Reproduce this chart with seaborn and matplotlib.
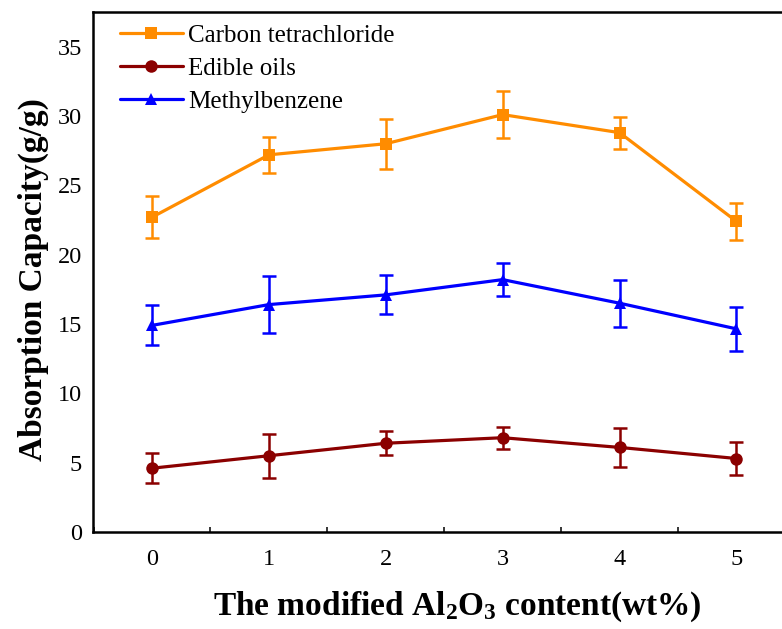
import numpy as np
import pandas as pd
import matplotlib
matplotlib.use("Agg")
import matplotlib.pyplot as plt
import seaborn as sns
from matplotlib.ticker import MultipleLocator
from matplotlib.lines import Line2D

# Al2O3 content (wt%)
content = [0, 1, 2, 3, 4, 5]

# Absorption capacity (g/g) and error bars for each liquid
carbon_tet = [22.7, 27.2, 28.0, 30.1, 28.8, 22.4]
carbon_tet_err = [1.5, 1.3, 1.8, 1.7, 1.15, 1.35]
edible_oils = [4.6, 5.5, 6.4, 6.8, 6.1, 5.3]
edible_oils_err = [1.1, 1.6, 0.85, 0.8, 1.4, 1.2]
methylbenzene = [14.9, 16.4, 17.1, 18.2, 16.5, 14.65]
methylbenzene_err = [1.45, 2.05, 1.4, 1.2, 1.7, 1.6]

series_names = ["Carbon tetrachloride", "Edible oils", "Methylbenzene"]
series_vals = [carbon_tet, edible_oils, methylbenzene]
series_errs = [carbon_tet_err, edible_oils_err, methylbenzene_err]
colors = ["#FF8C00", "#8B0000", "#0000FF"]
markers = ["s", "o", "^"]

sns.set_theme(style="white")
plt.rcParams["font.family"] = ["Liberation Serif", "DejaVu Serif"]
plt.rcParams["mathtext.default"] = "regular"
plt.rcParams["text.color"] = "black"
plt.rcParams["axes.labelcolor"] = "black"

df = pd.DataFrame({
    "content": content * 3,
    "capacity": sum(series_vals, []),
    "series": sum([[n] * len(content) for n in series_names], []),
})

fig = plt.figure(figsize=(7.82, 6.29), dpi=100)
ax = fig.add_axes([93 / 782, 97 / 629, 1 - 93 / 782, 520 / 629])

palette = dict(zip(series_names, colors))
sns.lineplot(data=df, x="content", y="capacity", hue="series", style="series",
             hue_order=series_names, style_order=series_names,
             palette=palette, markers=dict(zip(series_names, markers)),
             dashes=False, linewidth=2.3, markersize=9,
             markeredgewidth=0, errorbar=None, ax=ax, legend=False, zorder=3)

for vals, errs, c in zip(series_vals, series_errs, colors):
    ax.errorbar(content, vals, yerr=errs, fmt="none", ecolor=c,
                elinewidth=1.8, capsize=5, capthick=1.8, zorder=2)

ax.set_xlim(-0.505, 5.39)
ax.set_ylim(0, 37.5)
ax.xaxis.set_major_locator(MultipleLocator(1))
ax.xaxis.set_minor_locator(MultipleLocator(0.5))
ax.yaxis.set_major_locator(MultipleLocator(5))

ax.tick_params(axis="both", which="major", direction="in", length=6, width=1.5,
               labelsize=17.5, colors="black")
ax.tick_params(axis="x", which="major", pad=12)
ax.tick_params(axis="y", which="major", pad=8)
ax.tick_params(axis="x", which="minor", direction="in", length=3.5, width=1.3,
               bottom=True)
ax.tick_params(axis="y", which="minor", left=False)

for side in ["left", "bottom", "top"]:
    ax.spines[side].set_visible(True)
    ax.spines[side].set_linewidth(1.8)
    ax.spines[side].set_color("black")
ax.spines["right"].set_visible(False)

ax.set_xlabel("The modified Al$_2$O$_3$ content(wt%)", fontsize=24,
              fontweight="bold", labelpad=14)
ax.set_ylabel("Absorption Capacity(g/g)", fontsize=24, fontweight="bold",
              labelpad=6)
ax.xaxis.label.set_x(0.529)
ax.yaxis.label.set_y(0.485)

handles = [Line2D([0], [0], color=c, marker=m, linewidth=2.3, markersize=9,
                  markeredgewidth=0) for c, m in zip(colors, markers)]
ax.legend(handles, series_names, loc="upper left", frameon=False, fontsize=18,
          handlelength=2.5, handletextpad=0.2, labelspacing=0.43,
          borderaxespad=0.0, bbox_to_anchor=(0.025, 0.996))

fig.savefig("out.png", dpi=100)
